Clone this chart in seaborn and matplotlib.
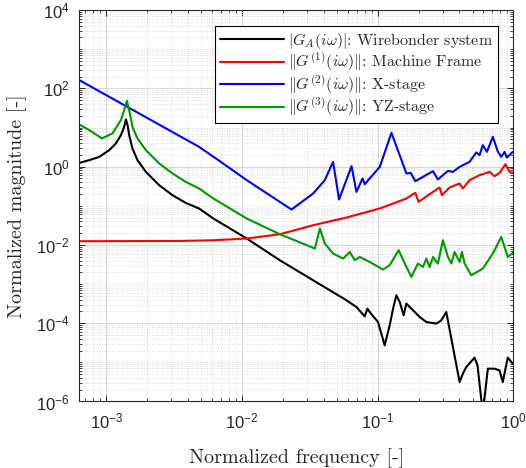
import numpy as np
import pandas as pd
import matplotlib
matplotlib.use("Agg")
import matplotlib.pyplot as plt
import matplotlib.ticker as mticker
import seaborn as sns

# values, stored as log10(frequency), log10(magnitude)
black_logf = [-3.199, -3.125, -3.051, -2.978, -2.929, -2.892, -2.868, -2.855, -2.843, -2.831,
              -2.807, -2.770, -2.708, -2.610, -2.512, -2.414, -2.316, -2.211, -1.965, -1.721,
              -1.476, -1.230, -1.157, -1.096, -1.076, -1.046, -0.998, -0.949, -0.912, -0.887,
              -0.863, -0.838, -0.809, -0.789, -0.740, -0.691, -0.642, -0.568, -0.532, -0.495,
              -0.397, -0.373, -0.348, -0.287, -0.265, -0.226, -0.189, -0.140, -0.103, -0.079,
              -0.042, -0.005]
black_logm = [0.097, 0.166, 0.251, 0.422, 0.593, 0.806, 1.018, 1.207, 1.061, 0.806,
              0.465, 0.166, -0.133, -0.473, -0.729, -0.926, -1.069, -1.325, -1.836, -2.391,
              -2.903, -3.414, -3.586, -3.824, -3.627, -3.772, -3.969, -4.565, -4.054, -3.627,
              -3.286, -3.458, -3.798, -3.499, -3.670, -3.841, -3.969, -4.010, -3.926, -3.714,
              -5.504, -5.289, -5.120, -4.880, -5.077, -6.300, -5.161, -5.161, -5.205, -5.504,
              -4.880, -5.033]

red_logf = [-3.199, -2.676, -2.456, -2.211, -1.965, -1.721, -1.476, -1.230, -0.985, -0.789,
            -0.740, -0.723, -0.699, -0.618, -0.544, -0.527, -0.471, -0.397, -0.373, -0.324,
            -0.250, -0.176, -0.140, -0.103, -0.059, -0.029, -0.005]
red_logm = [-1.905, -1.900, -1.898, -1.880, -1.836, -1.726, -1.496, -1.299, -1.069, -0.813,
            -0.703, -0.670, -0.900, -0.703, -0.532, -0.729, -0.532, -0.430, -0.558, -0.345,
            -0.217, -0.133, -0.243, -0.159, 0.064, -0.133, -0.159]

blue_logf = [-3.199, -2.316, -2.174, -1.965, -1.721, -1.635, -1.476, -1.390, -1.329, -1.285,
             -1.193, -1.157, -1.112, -1.096, -0.985, -0.899, -0.789, -0.757, -0.723, -0.593,
             -0.557, -0.483, -0.446, -0.397, -0.324, -0.274, -0.250, -0.226, -0.196, -0.152,
             -0.115, -0.090, -0.066, -0.049, -0.005]
blue_logm = [2.212, 0.506, 0.166, -0.345, -0.900, -1.095, -0.685, -0.345, 0.123, -0.839,
             0.013, -0.645, -0.302, -0.448, -0.005, 0.864, -0.174, -0.159, -0.371, -0.115,
             -0.327, -0.107, -0.133, -0.005, 0.123, 0.363, 0.294, 0.550, 0.379, 0.762,
             0.379, 0.251, 0.379, 0.235, 0.379]

green_logf = [-3.199, -3.125, -3.032, -2.954, -2.892, -2.868, -2.848, -2.831, -2.807, -2.770,
              -2.708, -2.610, -2.512, -2.414, -2.316, -2.211, -1.965, -1.721, -1.463, -1.426,
              -1.390, -1.329, -1.255, -1.206, -1.169, -1.132, -1.059, -0.961, -0.912, -0.846,
              -0.801, -0.752, -0.704, -0.667, -0.642, -0.618, -0.593, -0.557, -0.520, -0.483,
              -0.458, -0.434, -0.397, -0.380, -0.360, -0.311, -0.226, -0.152, -0.090, -0.042,
              -0.005]
green_logm = [1.079, 0.934, 0.721, 0.849, 1.189, 1.445, 1.683, 1.445, 1.018, 0.721,
              0.422, 0.082, -0.174, -0.389, -0.558, -0.813, -1.325, -1.726, -2.092, -1.581,
              -1.964, -2.220, -2.348, -2.179, -2.391, -2.307, -2.435, -2.629, -2.519, -2.136,
              -2.476, -2.818, -2.476, -2.563, -2.348, -2.563, -2.307, -2.476, -1.880, -2.307,
              -2.476, -2.179, -2.435, -2.179, -2.476, -2.775, -2.604, -2.220, -1.795, -2.307,
              -2.205]

labels = [r"$|G_A(i\omega)|$: Wirebonder system",
          r"$\Vert G^{(1)}(i\omega)\Vert$: Machine Frame",
          r"$\Vert G^{(2)}(i\omega)\Vert$: X-stage",
          r"$\Vert G^{(3)}(i\omega)\Vert$: YZ-stage"]
colors = ["black", "#ff0000", "#0000ff", "#009900"]
y_ticks = [1e-6, 1e-4, 1e-2, 1e0, 1e2, 1e4]
x_ticks = [1e-3, 1e-2, 1e-1, 1e0]

sns.set_theme(style="ticks")
plt.rcParams["font.family"] = ["Liberation Sans", "DejaVu Sans"]
plt.rcParams["mathtext.fontset"] = "cm"

series = [(black_logf, black_logm), (red_logf, red_logm),
          (blue_logf, blue_logm), (green_logf, green_logm)]

fig = plt.figure(figsize=(5.26, 4.68), dpi=100)
ax = fig.add_axes([0.1502, 0.1421, 0.8260, 0.8363])

for (lf, lm), lab, col in zip(series, labels, colors):
    df = pd.DataFrame({"freq": 10.0 ** np.array(lf), "mag": 10.0 ** np.array(lm)})
    sns.lineplot(data=df, x="freq", y="mag", ax=ax, color=col, lw=1.5,
                 label=lab, estimator=None, sort=False)

ax.set_xscale("log")
ax.set_yscale("log")
ax.set_xlim(6.3e-4, 1.0)
ax.set_ylim(1e-6, 1e4)
ax.set_xticks(x_ticks)
ax.set_yticks(y_ticks)
ax.xaxis.set_minor_locator(mticker.LogLocator(base=10, subs=np.arange(1, 10), numticks=50))
ax.yaxis.set_minor_locator(mticker.LogLocator(base=10, subs=np.arange(1, 10), numticks=50))
ax.xaxis.set_minor_formatter(mticker.NullFormatter())
ax.yaxis.set_minor_formatter(mticker.NullFormatter())

ax.grid(True, which="major", color="#d6d6d6", lw=0.7, ls="-")
ax.grid(True, which="minor", color="#cfcfcf", lw=0.6, ls=(0, (1, 2)))
ax.set_axisbelow(True)

for sp in ax.spines.values():
    sp.set_color("#262626")
    sp.set_linewidth(0.8)
ax.tick_params(which="both", direction="in", top=True, right=True, color="#262626")
ax.tick_params(which="major", length=4.5, width=0.7, labelsize=12, pad=7, labelcolor="#262626")
ax.tick_params(which="minor", length=2.5, width=0.6)

ax.set_xlabel("Normalized frequency [-]", family="cmr10", fontsize=14.5, labelpad=12)
ax.set_ylabel("Normalized magnitude [-]", family="cmr10", fontsize=14.5, labelpad=6)

leg = ax.legend(loc="upper right", bbox_to_anchor=(0.9636, 0.9594), borderaxespad=0,
                prop={"family": "cmr10", "size": 11.5}, fancybox=False, framealpha=1,
                edgecolor="black", handlelength=4.0, handletextpad=0.25,
                labelspacing=0.0, borderpad=0.3)
leg.get_frame().set_linewidth(0.8)

fig.savefig("out.png", dpi=100)
